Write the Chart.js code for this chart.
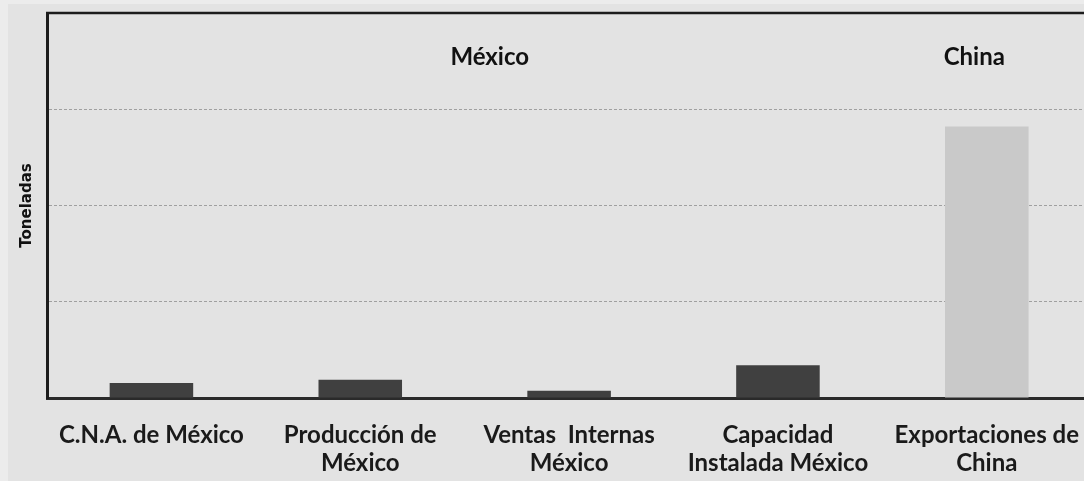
<!DOCTYPE html>
<html>
<head>
<meta charset="utf-8">
<script src="https://cdn.jsdelivr.net/npm/chart.js@4.4.1/dist/chart.umd.min.js"></script>
<style>
  html, body { margin: 0; padding: 0; background: #ececec; overflow: hidden; width: 1084px; height: 481px; }
  #wrap { position: absolute; left: 8px; top: 4px; width: 1086px; height: 477px; background: #e3e3e3; }
</style>
</head>
<body>
<div id="wrap"><canvas id="c"></canvas></div>
<script>
// Categories (multi-line labels) and values, in the chart's own units
const categories = [
  ['C.N.A. de México'],
  ['Producción de', 'México'],
  ['Ventas  Internas', 'México'],
  ['Capacidad', 'Instalada México'],
  ['Exportaciones de', 'China']
];
const values = [0.155, 0.19, 0.075, 0.34, 2.82];
const barColors = ['#404040', '#404040', '#404040', '#404040', '#c9c9c9'];
const groupLabels = ['México', 'China'];
const axisTitle = 'Toneladas';

const FONT = 'Lato, "Open Sans", sans-serif';

// Group headings and the top edge of the plotting frame
const framePlugin = {
  id: 'frameAndGroups',
  afterDraw(chart, args, opts) {
    const { ctx, chartArea, scales } = chart;
    ctx.save();
    ctx.strokeStyle = '#1c1c1c';
    ctx.lineWidth = 2.5;
    ctx.beginPath();
    ctx.moveTo(chartArea.left - 1, chartArea.top);
    ctx.lineTo(chartArea.right + 10, chartArea.top);
    ctx.stroke();

    ctx.fillStyle = '#111';
    ctx.font = 'bold 24px ' + FONT;
    ctx.textAlign = 'center';
    ctx.textBaseline = 'middle';
    groupLabels.forEach((t, i) => {
      const x = scales.x.getPixelForValue(opts.at[i]);
      const y = scales.y.getPixelForValue(opts.level);
      ctx.fillText(t, x, y);
    });
    ctx.restore();
  }
};

new Chart(document.getElementById('c'), {
  type: 'bar',
  data: {
    labels: categories,
    datasets: [{
      data: values,
      backgroundColor: barColors,
      borderWidth: 0,
      barPercentage: 0.4,
      categoryPercentage: 1.0
    }]
  },
  options: {
    responsive: true,
    maintainAspectRatio: false,
    animation: false,
    layout: { padding: { top: 9, right: 0, left: 0, bottom: 0 } },
    plugins: {
      legend: { display: false },
      tooltip: { enabled: false },
      frameAndGroups: { at: [1.62, 3.94], level: 3.54 }
    },
    scales: {
      x: {
        grid: { display: false },
        border: { display: true, color: '#2a2a2a', width: 3 },
        ticks: {
          color: '#1a1a1a',
          font: { family: FONT, size: 24, weight: 'bold', lineHeight: 1.18 },
          padding: 15,
          maxRotation: 0,
          autoSkip: false
        },
        afterFit(scale) { scale.height = 83; }
      },
      y: {
        min: 0,
        max: 4,
        ticks: { display: false, stepSize: 1 },
        grid: {
          display: true,
          drawTicks: false,
          color: (c) => (c.tick && (c.tick.value === 4 || c.tick.value === 0)) ? 'rgba(0,0,0,0)' : '#a0a0a0',
          lineWidth: 1
        },
        border: { display: true, color: '#1c1c1c', width: 3, dash: [3, 2] },
        title: {
          display: true,
          text: axisTitle,
          color: '#111',
          font: { family: '"DejaVu Sans", sans-serif', size: 15, weight: 'bold' },
          padding: { top: 10, bottom: 2 }
        },
        afterFit(scale) { scale.width = 39; }
      }
    }
  },
  plugins: [framePlugin]
});
</script>
</body>
</html>
